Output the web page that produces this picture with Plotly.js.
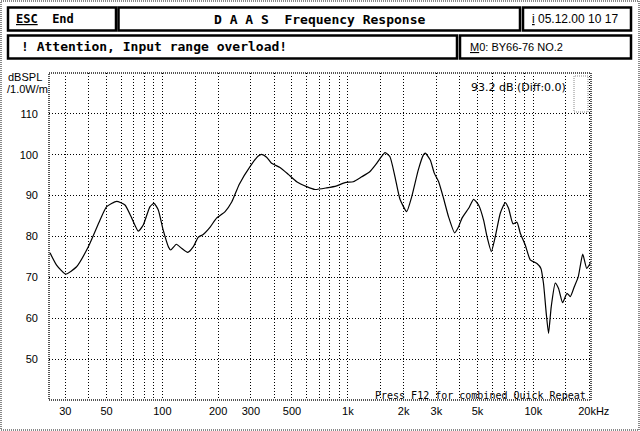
<!DOCTYPE html>
<html>
<head>
<meta charset="utf-8">
<script src="https://cdn.plot.ly/plotly-3.0.1.min.js"></script>
<style>html,body{margin:0;padding:0;background:#fff;}#chart{width:640px;height:431px;}</style>
</head>
<body>
<div id="chart"></div>
<script>
// ---- data ----
const freqHz = [24.8, 26.9, 30.1, 34.5, 39.9, 46.1, 50.1, 56.7, 62.9, 68.4, 74.2, 78.9, 85.8, 90.2, 95.1,
  101, 108, 111, 119, 127, 137, 147, 156, 166, 181, 196, 218, 237, 260, 297, 329, 343, 365, 388, 431, 478,
  530, 600, 665, 769, 871, 966, 1070, 1188, 1317, 1431, 1587, 1687, 1796, 1911, 2076, 2209, 2399, 2552,
  2616, 2783, 2925, 3088, 3283, 3493, 3763, 3955, 4127, 4481, 4766, 5070, 5394, 5626, 5938, 6240, 6636,
  7059, 7355, 7768, 8165, 8507, 9050, 9626, 10460, 10990, 11350, 11740, 12080, 12490, 13130, 13680,
  14380, 15190, 15830, 16630, 17480, 18470, 19410, 20390];
const splDb = [76.0, 73.0, 70.8, 72.6, 77.5, 84.0, 87.3, 88.6, 87.7, 84.5, 81.3, 82.8, 87.3, 88.1, 86.5,
  81.6, 77.4, 76.7, 78.1, 77.1, 76.1, 77.5, 79.8, 80.5, 82.3, 84.5, 86.1, 88.5, 92.8, 97.1, 99.7, 100.1,
  99.4, 97.9, 96.9, 95.2, 93.4, 92.2, 91.5, 91.9, 92.4, 93.2, 93.4, 94.6, 95.9, 97.9, 100.5, 99.5, 94.6,
  89.1, 86.1, 89.7, 96.3, 99.9, 100.4, 98.7, 95.5, 93.4, 89.3, 84.8, 80.9, 82.4, 84.5, 86.9, 89.1, 87.7,
  84.0, 80.0, 76.3, 80.0, 85.7, 88.3, 86.9, 83.1, 83.5, 80.8, 77.9, 74.3, 73.4, 72.2, 68.5, 61.2, 56.3,
  62.8, 68.6, 67.3, 63.8, 66.1, 65.3, 67.7, 70.2, 75.7, 72.2, 73.6];

const xGridVals = [30,40,50,60,70,80,90,100,150,200,300,400,500,600,700,800,900,1000,1500,2000,
  3000,4000,5000,6000,7000,8000,9000,10000,15000,20000];
const xLabelMap = {30:"30",50:"50",100:"100",200:"200",300:"300",500:"500",1000:"1k",2000:"2k",
  3000:"3k",5000:"5k",10000:"10k",20000:"\u00a0\u00a0\u00a020kHz"};
const yTickVals = [50,60,70,80,90,100,110];
const yTickText = ["50","60","70","80","90","100","110"];

// ---- layout helpers: pixel -> paper ----
const W = 640, H = 431, ML = 49, MR = 49, MT = 73, MB = 31;
const PW = W - ML - MR, PH = H - MT - MB;
const px = x => (x - ML) / PW;
const py = y => (H - MB - y) / PH;
function box(x0, y0, x1, y1, color, width, dash) {
  return {type:'rect', xref:'paper', yref:'paper', x0:px(x0), x1:px(x1), y0:py(y1), y1:py(y0),
    line:{color:color, width:width, dash:dash||'solid'}, fillcolor:'rgba(0,0,0,0)', layer:'above'};
}
function label(text, x, y, opts) {
  return Object.assign({xref:'paper', yref:'paper', x:px(x), y:py(y), text:text, showarrow:false,
    xanchor:'left', yanchor:'middle', font:{family:'Liberation Sans', size:11, color:'#000'}}, opts||{});
}
const mono = (size, bold) => ({family:'DejaVu Sans Mono', size:size, color:'#000', weight: bold ? 'bold' : 'normal'});

const shapes = [
  box(1, 1, 639, 430, '#888', 2, '1px,1px'),
  box(8, 7.5, 116, 30.5, '#000', 2.5),
  box(118.5, 7.5, 520, 30.5, '#000', 2.5),
  box(523, 7.5, 631, 30.5, '#000', 2.5),
  box(8, 35.5, 457, 58.5, '#000', 2.5),
  box(460, 35.5, 631, 58.5, '#000', 2.5),
  box(49, 73, 591, 400, '#555', 2, '1px,1px'),
  box(574, 76, 588, 112, '#888', 1, '1px,1px')
];

const annotations = [
  label('<u>ESC</u>\u00a0\u00a0End', 14, 19, {font:mono(12, true)}),
  label('D\u00a0A\u00a0A\u00a0S\u00a0\u00a0Frequency\u00a0Response', 319, 19.5, {xanchor:'center', font:mono(13, true)}),
  label('<u>i</u> 05.12.00 10 17', 530, 19, {font:{family:'Liberation Sans', size:12, color:'#000'}}),
  label('!\u00a0Attention,\u00a0Input\u00a0range\u00a0overload!', 19, 46.5, {font:mono(13, true)}),
  label('<u>M</u>0: BY66-76 NO.2', 468, 46.5, {font:{family:'Liberation Sans', size:11, color:'#000'}}),
  label('dBSPL', 25, 77, {xanchor:'center'}),
  label('/1.0W/m', 27.5, 88.5, {xanchor:'center'}),
  label('93.2 dB (Diff:0.0)', 568, 88, {xanchor:'right', font:{family:'DejaVu Sans', size:11, color:'#000'}}),
  label('Press\u00a0F12\u00a0for\u00a0combined\u00a0Quick\u00a0Repeat', 588, 395, {xanchor:'right', font:mono(10, false)})
];

const trace = {
  x: freqHz, y: splDb, type: 'scatter', mode: 'lines',
  line: {color:'#000', width:1.2, shape:'spline', smoothing:0.5},
  hoverinfo: 'skip'
};

const layout = {
  width: W, height: H,
  margin: {l:ML, r:MR, t:MT, b:MB, pad:0},
  paper_bgcolor: '#fff', plot_bgcolor: '#fff',
  showlegend: false,
  xaxis: {
    type: 'log', range: [1.389, 4.311],
    tickmode: 'array', tickvals: xGridVals,
    ticktext: xGridVals.map(v => xLabelMap[v] || ''),
    showgrid: true, gridcolor: '#000', gridwidth: 1, griddash: '1px,2px',
    showline: false, zeroline: false, ticks: '',
    ticklabelstandoff: 3,
    tickfont: {family:'Liberation Sans', size:11, color:'#000'}
  },
  yaxis: {
    range: [40, 120],
    tickmode: 'array', tickvals: yTickVals, ticktext: yTickText,
    showgrid: true, gridcolor: '#000', gridwidth: 1, griddash: '1px,2px',
    showline: false, zeroline: false, ticks: '',
    ticklabelstandoff: 10,
    tickfont: {family:'Liberation Sans', size:11, color:'#000'}
  },
  shapes: shapes,
  annotations: annotations
};

Plotly.newPlot('chart', [trace], layout, {staticPlot:true, displayModeBar:false});
</script>
</body>
</html>
